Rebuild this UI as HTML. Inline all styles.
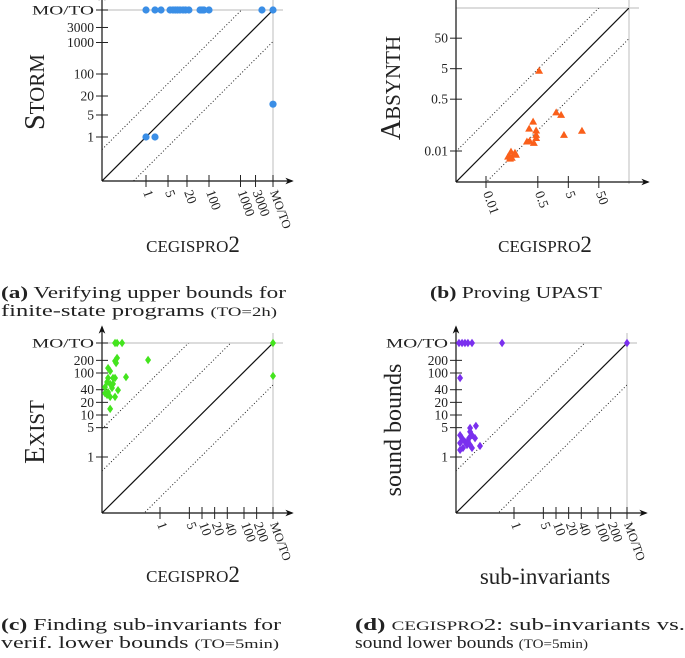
<!DOCTYPE html>
<html><head><meta charset="utf-8">
<style>
html,body{margin:0;padding:0;background:#fff;}
svg{display:block;font-family:"Liberation Serif",serif;}
.cap{font-size:17px;fill:#222;}
</style></head>
<body>
<svg id="fig" width="685" height="658" viewBox="0 0 685 658" xmlns="http://www.w3.org/2000/svg">
<defs>
<marker id="arr" viewBox="0 0 10 10" refX="8" refY="5" markerWidth="7" markerHeight="7" orient="auto"><path d="M0,1 L10,5 L0,9 L3,5 Z" fill="#111"/></marker>
</defs>
<g>
<text class="cap" x="1" y="298" textLength="285" lengthAdjust="spacingAndGlyphs"><tspan font-weight="bold">(a)</tspan> Verifying upper bounds for</text>
<text class="cap" x="1" y="316" textLength="276" lengthAdjust="spacingAndGlyphs">finite-state programs <tspan font-size="13">(TO=2h)</tspan></text>
</g>
<g>
<text class="cap" x="430" y="298" textLength="172" lengthAdjust="spacingAndGlyphs"><tspan font-weight="bold">(b)</tspan> Proving UPAST</text>
</g>
<g>
<text class="cap" x="1" y="630" textLength="280" lengthAdjust="spacingAndGlyphs"><tspan font-weight="bold">(c)</tspan> Finding sub-invariants for</text>
<text class="cap" x="1" y="648" textLength="278" lengthAdjust="spacingAndGlyphs">verif. lower bounds <tspan font-size="13">(TO=5min)</tspan></text>
</g>
<g>
<text class="cap" x="355" y="630" textLength="330" lengthAdjust="spacingAndGlyphs"><tspan font-weight="bold">(d)</tspan>  <tspan font-size="13">CEGISPRO</tspan>2: sub-invariants  vs.</text>
<text class="cap" x="355" y="648" textLength="233" lengthAdjust="spacingAndGlyphs">sound lower bounds <tspan font-size="13">(TO=5min)</tspan></text>
</g>
</svg>
<script>
// ---- data (values in seconds; 'TO' = MO/TO) ----
const aX = [1,1.93,3,5.8,7.2,8.5,10,12,15,18,23,52,60,69,100,4800,'TO',1,1.93,'TO'];
const aY = ['TO','TO','TO','TO','TO','TO','TO','TO','TO','TO','TO','TO','TO','TO','TO','TO','TO',1,1,11];
const aTicks = [1,5,20,100,1000,3000];

const bX = [0.55,2.0,2.9,3.6,14,0.35,0.26,0.44,0.44,0.44,0.27,0.37,0.22,0.066,0.089,0.053,0.07,0.057,0.096,0.061];
const bY = [4.2,0.18,0.15,0.033,0.045,0.09,0.053,0.046,0.033,0.026,0.021,0.018,0.02,0.0093,0.0086,0.0064,0.0059,0.0069,0.0074,0.0055];
const bTicks = [0.01,0.5,5,50];

const cX = [0.085,0.095,0.125,'TO','TO',0.085,0.095,0.09,0.52,0.058,0.065,0.085,0.076,0.155,0.058,0.055,0.065,0.049,0.076,0.072,0.1,0.058,0.055,0.065,0.085,0.049,0.065];
const cY = ['TO','TO','TO','TO',85,193,228,173,204,131,111,76,76,80,76,61,55,46,55,44,39,35,30,27,27,33,14];
const cTicks = [1,5,10,20,40,100,200];

const dX = [0.049,0.058,0.068,0.08,0.1,0.52,'TO',0.052,0.124,0.09,0.09,0.1,0.085,0.052,0.058,0.068,0.052,0.076,0.061,0.09,0.052,0.155,0.1,0.118,0.08];
const dY = ['TO','TO','TO','TO','TO','TO','TO',76,5.5,4.9,4.0,3.3,2.8,3.3,2.8,2.3,2.15,1.93,1.64,1.93,1.47,1.83,1.64,2.8,2.4];
const dTicks = [1,5,10,20,40,100,200];

const NS = 'http://www.w3.org/2000/svg';
const svg = document.getElementById('fig');
function mk(tag, attrs, parent){
  const e = document.createElementNS(NS, tag);
  for (const k in attrs) e.setAttribute(k, attrs[k]);
  (parent||svg).appendChild(e);
  return e;
}
// fake small caps: parts = [[text,size],...]
function addParts(t, parts){
  parts.forEach(p => { const s = mk('tspan', {'font-size':p[1]}, t); s.textContent = p[0]; });
}

function panel(cfg){
  const g = mk('g', {});
  
  
  const sx = v => v === 'TO' ? cfg.toX : cfg.x1 + cfg.dec * Math.log10(v);
  const sy = v => v === 'TO' ? cfg.toY : cfg.y1 - cfg.dec * Math.log10(v);
  const gl1 = mk('line', {x1:cfg.ox, y1:cfg.toY, x2:cfg.toX+10, y2:cfg.toY, stroke:'#c8c8c8', 'stroke-width':1.2}, g);
  
  
  const gl2 = mk('line', {x1:cfg.toX, y1:cfg.toY-10, x2:cfg.toX, y2:cfg.oy+2, stroke:'#c8c8c8', 'stroke-width':1.2}, g);
  
  
  const cid = 'clip' + cfg.name;
  const cp = mk('clipPath', {id:cid}, g);
  mk('rect', {x:cfg.ox, y:cfg.toY, width:cfg.toX-cfg.ox, height:cfg.oy-cfg.toY}, cp);
  const dg = mk('line', {x1:cfg.ox, y1:cfg.oy, x2:cfg.toX, y2:cfg.toY, stroke:'#111', 'stroke-width':1.2, 'clip-path':'url(#'+cid+')'}, g);
  
  
  cfg.dots.forEach(k => {
    const off = k * cfg.dec;
    const dl = mk('line', {x1:cfg.ox, y1:cfg.oy-off, x2:cfg.toX+10, y2:cfg.toY-off-10, stroke:'#222', 'stroke-width':1, 'stroke-dasharray':'1 2.2', 'clip-path':'url(#'+cid+')'}, g);
    
    
  });
  const ax = mk('line', {x1:cfg.ox, y1:cfg.oy, x2:cfg.toX+19, y2:cfg.oy, stroke:'#111', 'stroke-width':1.2, 'marker-end':'url(#arr)'}, g);
  
  
  const ay = mk('line', {x1:cfg.ox, y1:cfg.oy, x2:cfg.ox, y2:cfg.toY-16, stroke:'#111', 'stroke-width':1.2, 'marker-end':'url(#arr)'}, g);
  
  
  const xt = cfg.ticks.slice(); const yt = cfg.ticks.slice();
  if (cfg.to) { xt.push('TO'); yt.push('TO'); }
  xt.forEach(v => {
    const x = sx(v);
    mk('line', {x1:x, y1:cfg.oy-6, x2:x, y2:cfg.oy+6, stroke:'#222', 'stroke-width':1}, g);
    const t = mk('text', {x:x-3, y:cfg.oy+11, 'font-size':13.5, fill:'#222', transform:'rotate(70 '+(x-3)+' '+(cfg.oy+11)+')'}, g);
    if (v === 'TO') t.setAttribute('font-size', 12.5);
    t.textContent = v === 'TO' ? 'MO/TO' : String(v);
    
    
  });
  yt.forEach(v => {
    const y = sy(v);
    mk('line', {x1:cfg.ox-6, y1:y, x2:cfg.ox+6, y2:y, stroke:'#222', 'stroke-width':1}, g);
    const t = mk('text', {x:cfg.ox-8, y:y+4.5, 'font-size':13.5, fill:'#222', 'text-anchor':'end'}, g);
    if (v === 'TO') { t.setAttribute('font-size', 12.5); t.setAttribute('textLength', 62); t.setAttribute('lengthAdjust','spacingAndGlyphs'); }
    t.textContent = v === 'TO' ? 'MO/TO' : String(v);
    
    
  });
  const xl = mk('text', {x:cfg.xlx, y:cfg.xly, fill:'#222', 'text-anchor':'middle'}, g);
  if (cfg.xparts) addParts(xl, cfg.xparts); else { xl.setAttribute('font-size', cfg.xfs); xl.textContent = cfg.xlabel; }
  
  
  const yl = mk('text', {x:cfg.ylx, y:cfg.yly, fill:'#222', 'text-anchor':'middle', transform:'rotate(-90 '+cfg.ylx+' '+cfg.yly+')'}, g);
  if (cfg.yparts) addParts(yl, cfg.yparts); else { yl.setAttribute('font-size', cfg.yfs); yl.textContent = cfg.ylabel; }
  
  
  for (let i = 0; i < cfg.xs.length; i++) {
    const x = sx(cfg.xs[i]), y = sy(cfg.ys[i]);
    let p;
    if (cfg.marker === 'circle') p = mk('circle', {cx:x, cy:y, r:3.6, fill:cfg.color}, g);
    else if (cfg.marker === 'tri') p = mk('polygon', {points:(x)+','+(y-4.3)+' '+(x-4)+','+(y+2.7)+' '+(x+4)+','+(y+2.7), fill:cfg.color}, g);
    else p = mk('polygon', {points:(x)+','+(y-4.2)+' '+(x+3)+','+y+' '+x+','+(y+4.2)+' '+(x-3)+','+y, fill:cfg.color}, g);
    
    
  }
}

const cegParts = [['CEGISPRO',17],['2',23]];
panel({name:'panel-a-storm', ox:102, oy:181, toX:273, toY:10, x1:146, y1:137, dec:31.5, dots:[1,-1], to:true,
  ticks:aTicks, xs:aX, ys:aY, marker:'circle', color:'#3a8ee6',
  xparts:cegParts, xlx:193, xly:252,
  yparts:[['S',28],['TORM',21]], ylx:44, yly:92});
panel({name:'panel-b-absynth', ox:456, oy:182, toX:629, toY:8, x1:547, y1:90, dec:30.5, dots:[1,-1], to:false,
  ticks:bTicks, xs:bX, ys:bY, marker:'tri', color:'#fa5f1a',
  xparts:cegParts, xlx:545, xly:252,
  yparts:[['A',28],['BSYNTH',21]], ylx:400, yly:88});
panel({name:'panel-c-exist', ox:102, oy:513, toX:273, toY:343, x1:160, y1:457, dec:42, dots:[1,2,-1], to:true,
  ticks:cTicks, xs:cX, ys:cY, marker:'diamond', color:'#44e41e',
  xparts:cegParts, xlx:193, xly:582,
  yparts:[['E',28],['XIST',21]], ylx:44, yly:432});
panel({name:'panel-d-sound-bounds', ox:456, oy:513, toX:627, toY:343, x1:514, y1:457, dec:42, dots:[1,-1], to:true,
  ticks:dTicks, xs:dX, ys:dY, marker:'diamond', color:'#7a30ee',
  xlabel:'sub-invariants', xlx:545, xly:584, xfs:23,
  ylabel:'sound bounds', ylx:401, yly:430, yfs:24});
</script>
</body></html>
